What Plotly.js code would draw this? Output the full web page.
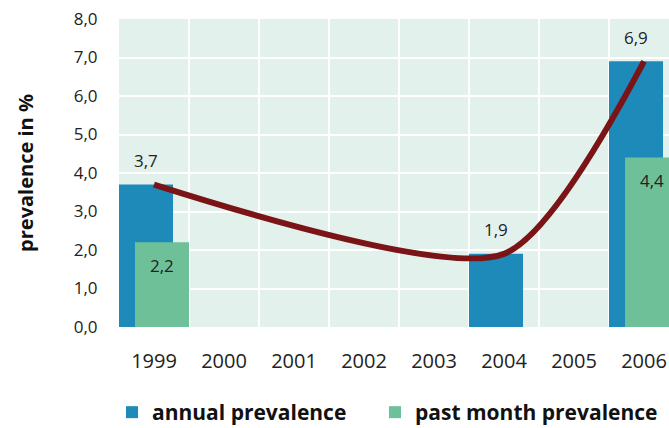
<!DOCTYPE html>
<html>
<head>
<meta charset="utf-8">
<script src="https://cdn.plot.ly/plotly-3.0.1.min.js"></script>
<style>html,body{margin:0;padding:0;background:#fff;}#chart{width:669px;height:428px;}</style>
</head>
<body>
<div id="chart"></div>
<script>
const years = ['1999','2000','2001','2002','2003','2004','2005','2006'];
const annual = [3.7, null, null, null, null, 1.9, null, 6.9];
const pastMonth = [2.2, null, null, null, null, null, null, 4.4];
const trendYears = ['1999','2004','2006'];
const trendValues = [3.7, 1.9, 6.9];

const fmt = v => v.toFixed(1).replace('.', ',');
const FONT = 'Open Sans, Noto Sans, sans-serif';
const BLUE = '#1e8ab9', GREEN = '#6ec098', RED = '#7b1416';

const traces = [
  {type:'bar', name:'annual prevalence', x: years, y: annual, legend:'legend',
   marker:{color: BLUE, line:{width:0}}, width: 0.7714, offset: -0.5, hoverinfo:'none'},
  {type:'bar', name:'past month prevalence', x: years, y: pastMonth, legend:'legend2',
   marker:{color: GREEN, line:{width:0}}, width: 0.7714, offset: -0.2714, hoverinfo:'none'},
  {type:'scatter', mode:'lines', x: trendYears, y: trendValues, showlegend:false,
   line:{color: RED, width:6, shape:'spline', smoothing:0.7}, hoverinfo:'none'}
];

const annotations = [];
years.forEach((yr, i) => {
  if (annual[i] != null) annotations.push({xref:'x', yref:'y', x: i, y: annual[i], text: fmt(annual[i]), showarrow:false,
    xshift: -8, yshift: 24, font:{family: FONT, size:17, color:'#222'}});
  if (pastMonth[i] != null) annotations.push({xref:'x', yref:'y', x: i, y: pastMonth[i], text: fmt(pastMonth[i]), showarrow:false,
    xshift: 8, yshift: -23, font:{family: FONT, size:17, color:'#222'}});
});

const legendFont = {family: FONT, size:21, color:'#111', weight:'bold'};
const layout = {
  width: 669, height: 428,
  margin: {l:119, r:0, t:19, b:101, autoexpand:false},
  paper_bgcolor:'#ffffff', plot_bgcolor:'#e3f1ed',
  barmode:'overlay',
  separators: ', ',
  font:{family: FONT, size:17, color:'#222'},
  xaxis:{type:'category', range:[-0.5, 7.357], tickson:'boundaries',
    showgrid:true, gridcolor:'#ffffff', gridwidth:2,
    ticks:'', ticklabelstandoff:20,
    tickfont:{family: FONT, size:20, color:'#222'}, showline:false, zeroline:false},
  yaxis:{range:[0,8], dtick:1, tickformat:'.1f',
    showgrid:true, gridcolor:'#ffffff', gridwidth:2, zeroline:false,
    ticks:'outside', ticklen:17, tickcolor:'rgba(0,0,0,0)',
    tickfont:{family: FONT, size:17, color:'#222'},
    title:{text:'<b>prevalence in %</b>', font:{family: FONT, size:20, color:'#111'}, standoff:34}},
  legend:{orientation:'h', xref:'container', yref:'container', x:112/669, xanchor:'left', y:(428-392)/428, yanchor:'top',
    font: legendFont, itemwidth:30},
  legend2:{orientation:'h', xref:'container', yref:'container', x:375/669, xanchor:'left', y:(428-392)/428, yanchor:'top',
    font: legendFont, itemwidth:30},
  annotations: annotations,
  showlegend:true
};

Plotly.newPlot('chart', traces, layout, {staticPlot:true, displayModeBar:false});
</script>
</body>
</html>
